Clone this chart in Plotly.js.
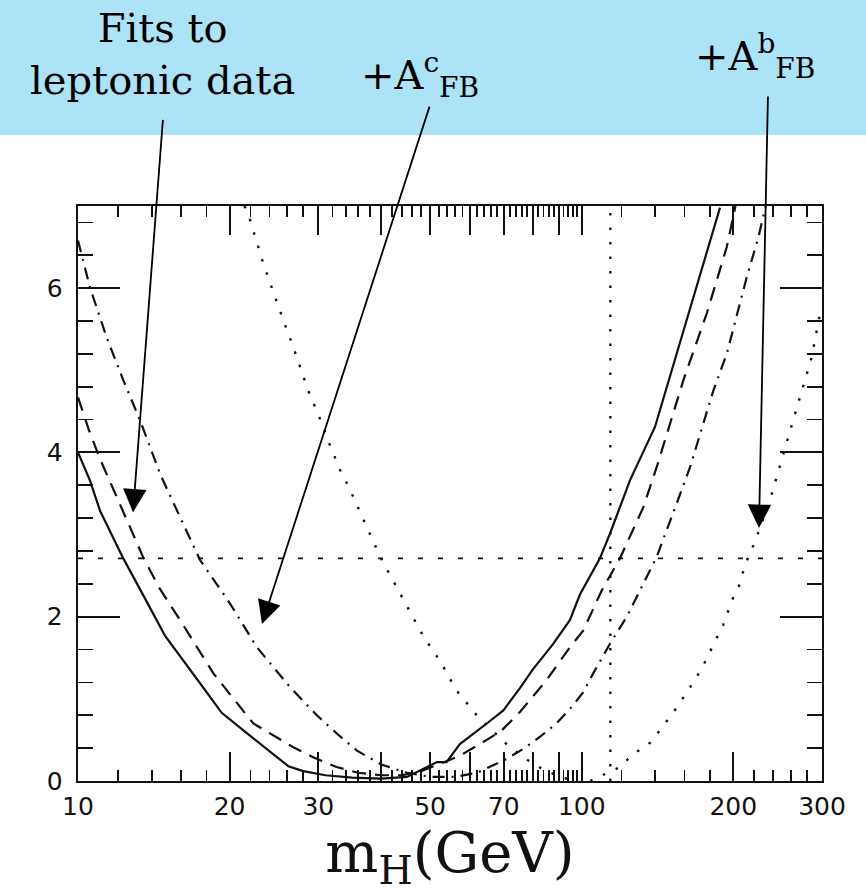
<!DOCTYPE html>
<html>
<head>
<meta charset="utf-8">
<script src="https://cdn.plot.ly/plotly-3.0.1.min.js"></script>
<style>
  html, body { margin: 0; padding: 0; background: #ffffff; }
  #chart { width: 866px; height: 893px; }
</style>
</head>
<body>
<div id="chart"></div>
<script>
// Higgs mass scan: delta chi^2 versus m_H for several fit combinations
const mhSolid   = [10, 10.56, 11.06, 12.3, 13.48, 14.88, 17.47, 19.29, 22.29, 26.16, 28, 31, 35, 40, 45, 47.7, 51.6, 53.9, 57.3, 64.8, 69.9, 75.4, 80, 87.8, 94.8, 99.2, 108.7, 113.8, 124.7, 139.8, 161.6, 188.2];
const chiSolid  = [4.0, 3.66, 3.29, 2.71, 2.26, 1.77, 1.19, 0.83, 0.52, 0.18, 0.12, 0.07, 0.04, 0.03, 0.05, 0.13, 0.23, 0.23, 0.45, 0.70, 0.86, 1.13, 1.36, 1.67, 1.96, 2.27, 2.71, 3.01, 3.66, 4.31, 5.61, 6.98];

const mhDash    = [10, 10.5, 11.06, 11.84, 12.5, 13.48, 14.5, 15.94, 18.57, 22.29, 26.77, 29.3, 32.6, 36, 40, 44, 48, 52, 57, 64.8, 69.5, 75.4, 85.2, 94.8, 100.7, 109.6, 119.1, 132.5, 140.9, 159.2, 177.1, 194.1, 202];
const chiDash   = [4.67, 4.28, 3.92, 3.50, 3.18, 2.72, 2.35, 1.96, 1.31, 0.70, 0.41, 0.29, 0.17, 0.10, 0.07, 0.07, 0.12, 0.20, 0.30, 0.50, 0.62, 0.84, 1.23, 1.63, 1.83, 2.32, 2.71, 3.33, 3.82, 4.88, 5.69, 6.50, 7.0];

const mhDashDot  = [10, 10.56, 11.4, 12.3, 13.28, 14.55, 15.11, 17.47, 20.04, 22.64, 26.3, 29.8, 32.9, 35.8, 40, 45, 50, 56, 62, 70, 77, 82.7, 89.1, 95.5, 100.7, 105.4, 113.8, 122.9, 132.5, 140.9, 154.4, 164.1, 182.5, 194.1, 212.6, 224.3, 232];
const chiDashDot = [6.58, 6.01, 5.40, 4.88, 4.39, 3.74, 3.52, 2.69, 2.16, 1.63, 1.15, 0.80, 0.56, 0.37, 0.20, 0.10, 0.05, 0.05, 0.10, 0.25, 0.40, 0.54, 0.70, 0.90, 1.08, 1.31, 1.67, 2.00, 2.40, 2.73, 3.38, 3.82, 4.75, 5.20, 6.13, 6.62, 7.0];

const mhDotLow   = [21.4, 21.78, 23.33, 24.42, 25.56, 26.77, 28.66, 30.22, 31.63, 33.38, 34.43, 39.8, 43.9, 48.5, 52.6, 56.3, 61.9, 72, 77.8, 85, 92, 97];
const chiDotLow  = [7.0, 6.90, 6.30, 5.95, 5.61, 5.28, 4.75, 4.41, 4.09, 3.74, 3.59, 2.73, 2.25, 1.76, 1.44, 1.11, 0.80, 0.41, 0.26, 0.12, 0.04, 0.0];

const mhDotHigh  = [104, 112, 119.1, 126.6, 135.6, 143.1, 148.6, 155.6, 161.6, 167.9, 174.4, 179.8, 185.3, 191, 195.4, 200, 206.2, 209.4, 214.2, 220.8, 236.5, 245.7, 255.3, 265.2, 275.5, 286.2, 297.2, 300];
const chiDotHigh = [0.0, 0.09, 0.17, 0.33, 0.44, 0.62, 0.76, 0.92, 1.08, 1.23, 1.41, 1.57, 1.73, 1.90, 2.07, 2.24, 2.40, 2.56, 2.73, 2.91, 3.42, 3.78, 4.13, 4.47, 4.81, 5.16, 5.69, 5.78];

// reference levels
const chiLevel = 2.71;
const mhLimit = 114;

// axis ticks
const xMajor = [10, 20, 30, 40, 50, 60, 70, 80, 90, 100, 200, 300];
const xMajorText = ['10', '20', '30', '', '50', '', '70', '', '', '100', '200', '300'];
const xMinor = [12, 14, 16, 18, 22, 24, 26, 28, 32, 34, 36, 38, 42, 44, 46, 48, 52, 54, 56, 58,
                62, 64, 66, 68, 72, 74, 76, 78, 82, 84, 86, 88, 92, 94, 96, 98,
                120, 140, 160, 180, 220, 240, 260, 280];
const yMajor = [0, 2, 4, 6];
const yMajorText = ['0', '2', '4', '6'];
const yMinor = [0.4, 0.8, 1.2, 1.6, 2.4, 2.8, 3.2, 3.6, 4.4, 4.8, 5.2, 5.6, 6.4, 6.8];

const ink = '#111111';

function curve(x, y, dash, width) {
  return { x: x, y: y, type: 'scatter', mode: 'lines', showlegend: false, hoverinfo: 'skip',
           line: { color: ink, width: width, dash: dash, shape: 'linear' } };
}

const traces = [
  curve(mhSolid, chiSolid, 'solid', 2.2),
  curve(mhDash, chiDash, '14px,9px', 2.2),
  curve(mhDashDot, chiDashDot, '12px,7px,2px,7px', 2.2),
  curve(mhDotLow, chiDotLow, '2.5px,11.5px', 2.4),
  curve(mhDotHigh, chiDotHigh, '2.5px,11.5px', 2.4),
  curve([xMajor[0], xMajor[xMajor.length - 1]], [chiLevel, chiLevel], '5px,15px', 1.8),
  curve([mhLimit, mhLimit], [0, 7], '2.5px,12px', 2.4)
];

const L = 78, R = 44, T = 206, B = 112, W = 866, H = 893;
const PW = W - L - R, PH = H - T - B;
const px = v => (v - L) / PW;          // page x -> paper x
const py = v => (H - B - v) / PH;      // page y -> paper y

const bannerFont = { family: 'DejaVu Serif', size: 40, color: '#000000' };
const arrowStyle = { showarrow: true, arrowhead: 2, arrowsize: 2.6, arrowwidth: 1.8, arrowcolor: '#000000', standoff: 0 };

const layout = {
  width: W, height: H,
  margin: { l: L, r: R, t: T, b: B, pad: 0 },
  paper_bgcolor: '#ffffff', plot_bgcolor: '#ffffff',
  showlegend: false,
  font: { family: 'DejaVu Sans', color: ink },
  xaxis: {
    type: 'log', range: [1, Math.log10(300)],
    showgrid: false, zeroline: false,
    showline: true, linecolor: ink, linewidth: 2.4, mirror: 'allticks',
    ticks: 'inside', ticklen: 29, tickwidth: 2, tickcolor: ink,
    tickmode: 'array', tickvals: xMajor, ticktext: xMajorText,
    tickfont: { family: 'DejaVu Sans', size: 25, color: ink },
    ticklabelstandoff: 2,
    minor: { tickmode: 'array', tickvals: xMinor, ticks: 'inside', ticklen: 11, tickwidth: 1.8, tickcolor: ink, showgrid: false },
    title: { text: 'm<sub>H</sub>(GeV)', standoff: 6,
             font: { family: 'DejaVu Serif', size: 56, color: ink } }
  },
  yaxis: {
    range: [0, 7],
    showgrid: false, zeroline: false,
    showline: true, linecolor: ink, linewidth: 2.4, mirror: 'allticks',
    ticks: 'inside', ticklen: 42, tickwidth: 2, tickcolor: ink,
    tickmode: 'array', tickvals: yMajor, ticktext: yMajorText,
    tickfont: { family: 'DejaVu Sans', size: 25, color: ink },
    ticklabelstandoff: 8,
    minor: { tickmode: 'array', tickvals: yMinor, ticks: 'inside', ticklen: 15, tickwidth: 1.8, tickcolor: ink, showgrid: false }
  },
  shapes: [
    { type: 'rect', xref: 'paper', yref: 'paper', layer: 'below',
      x0: px(0), x1: px(W), y0: py(135), y1: py(0),
      fillcolor: '#ade3f6', line: { width: 0 } }
  ],
  annotations: [
    { xref: 'paper', yref: 'paper', x: px(162), y: py(54), xanchor: 'center', yanchor: 'middle',
      text: 'Fits to<br>leptonic data', showarrow: false, font: bannerFont, align: 'center' },
    { xref: 'paper', yref: 'paper', x: px(420), y: py(75), xanchor: 'center', yanchor: 'middle',
      text: '+A<sup>c</sup><sub>FB</sub>', showarrow: false, font: bannerFont },
    { xref: 'paper', yref: 'paper', x: px(755), y: py(56), xanchor: 'center', yanchor: 'middle',
      text: '+A<sup>b</sup><sub>FB</sub>', showarrow: false, font: bannerFont },
    // arrows from the labels down to the curves
    Object.assign({ xref: 'x', yref: 'y', x: Math.log10(12.86), y: 3.27, text: '', ax: 30, ay: -394 }, arrowStyle),
    Object.assign({ xref: 'x', yref: 'y', x: Math.log10(23.19), y: 1.91, text: '', ax: 168, ay: -519 }, arrowStyle),
    Object.assign({ xref: 'x', yref: 'y', x: Math.log10(224.9), y: 3.08, text: '', ax: 9, ay: -433 }, arrowStyle)
  ]
};

Plotly.newPlot('chart', traces, layout, { staticPlot: true, displayModeBar: false });
</script>
</body>
</html>
